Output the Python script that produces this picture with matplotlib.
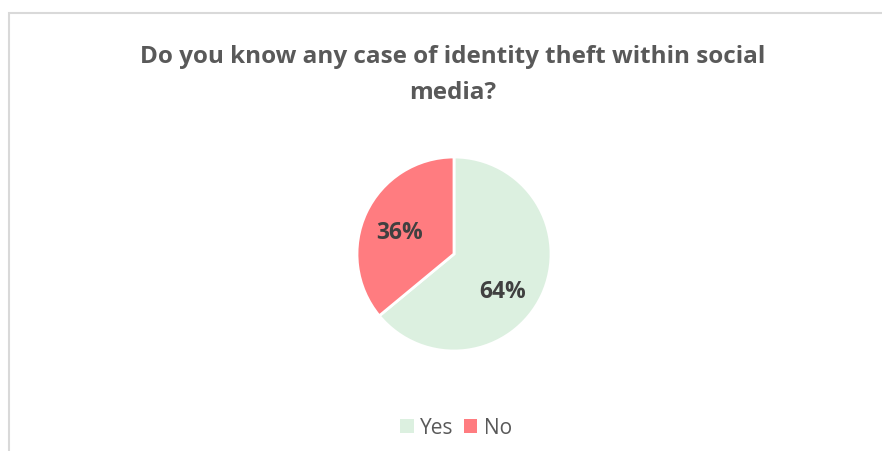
import matplotlib
matplotlib.use("Agg")
import matplotlib.pyplot as plt
from matplotlib.patches import Rectangle

labels = ["Yes", "No"]
shares = [64, 36]
colors = ["#DCF0E0", "#FF7C80"]
title_lines = ["Do you know any case of identity theft within social", "media?"]

W, H = 882, 451
fig = plt.figure(figsize=(W / 100, H / 100), dpi=100)
plt.rcParams["font.family"] = ["Open Sans", "DejaVu Sans"]

# light chart-area frame, running off the right and bottom edges
fig.patches.append(Rectangle((9 / W, -0.05), 1.0, (H - 13) / H + 0.05,
                             transform=fig.transFigure, fill=False,
                             edgecolor="#D9D9D9", linewidth=1.5))

for line, y in zip(title_lines, [57, 93]):
    fig.text(453 / W, 1 - y / H, line, ha="center", va="center",
             fontsize=17.5, fontweight="bold", color="#595959")

cx, cy, r = 454, 254, 97
ax = fig.add_axes([(cx - r) / W, (H - cy - r) / H, 2 * r / W, 2 * r / H])
wedges, _, autotexts = ax.pie(
    shares, colors=colors, startangle=90, counterclock=False,
    autopct=lambda p: f"{p:.0f}%", pctdistance=0.62,
    wedgeprops=dict(edgecolor="white", linewidth=2),
    textprops=dict(fontsize=16.5, fontweight="bold", color="#404040"))
# nudge the percentage labels to where the spreadsheet puts them
for t, pos in zip(autotexts, [(0.50, -0.39), (-0.56, 0.22)]):
    t.set_position(pos)
ax.set_aspect("equal")
ax.set_xlim(-1, 1)
ax.set_ylim(-1, 1)

leg = fig.legend(wedges, labels, loc="center", bbox_to_anchor=(456 / W, 1 - 428 / H),
                 ncol=2, frameon=False, fontsize=15, handlelength=0.65, handleheight=0.65,
                 handletextpad=0.3, columnspacing=0.5, labelcolor="#595959")
for h in leg.legend_handles:
    h.set_edgecolor("none")

fig.savefig("out.png", dpi=100, facecolor="white")
